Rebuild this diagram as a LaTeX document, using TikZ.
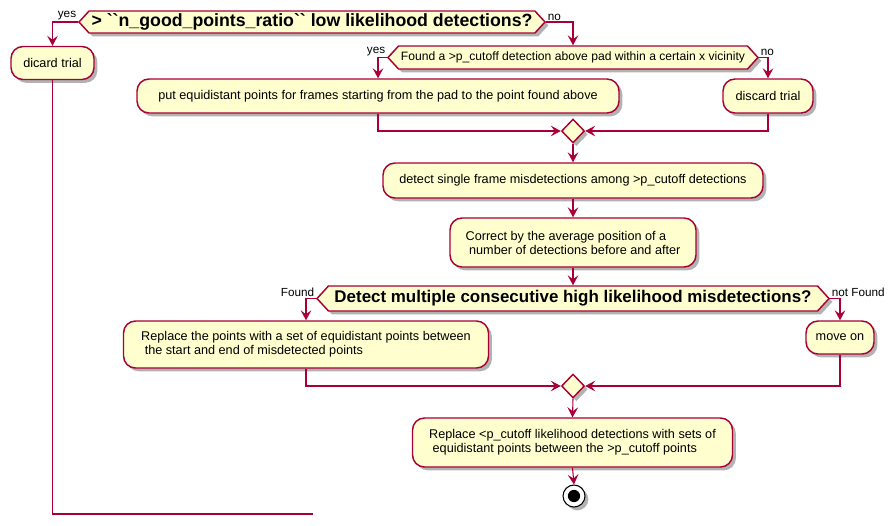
\documentclass[tikz,border=0pt]{standalone}
\usepackage{fontspec}
\setmainfont{Liberation Sans}[Ligatures=TeXOff]
\usetikzlibrary{arrows.meta,shapes.geometric,shapes.symbols,shadows}
\definecolor{umlred}{RGB}{168,0,54}
\definecolor{umlfill}{RGB}{254,254,206}

\tikzset{
  umlshadow/.style={drop shadow={shadow xshift=2.5pt,shadow yshift=-2.5pt,opacity=0.3,fill=black}},
  actbox/.style={draw=umlred,fill=umlfill,line width=1.1pt,rounded corners=9pt,
    align=left,inner sep=0pt,font=\fontsize{9.5}{10.5}\selectfont,umlshadow},
  decision/.style={signal,signal to=east and west,signal pointer angle=95,
    draw=umlred,fill=umlfill,line width=1.1pt,inner sep=0pt,umlshadow},
  merge/.style={diamond,draw=umlred,fill=umlfill,line width=1.1pt,inner sep=0pt,
    minimum width=17.25pt,minimum height=18pt,umlshadow},
  flow/.style={draw=umlred,line width=0.8pt,-{Stealth[length=7.5pt,width=8pt,inset=3pt]}},
  trail/.style={draw=umlred,line width=0.8pt},
  lbl/.style={font=\fontsize{8.8}{10}\selectfont,inner sep=1pt}
}

\begin{document}
\begin{tikzpicture}[x=0.75pt,y=-0.75pt]
    \useasboundingbox (0,0) rectangle (895,525);

    % decisions and actions
    \node[decision,minimum width=349.5pt,minimum height=16.5pt,font=\bfseries\fontsize{13.3}{15}\selectfont] (ratio) at (312,22)
        {> ``n\_good\_points\_ratio`` low likelihood detections?};
    \node[actbox,minimum width=62.25pt,minimum height=24.75pt] (dicard) at (52.5,63) {dicard trial};
    \node[decision,minimum width=277.5pt,minimum height=17.25pt,font=\fontsize{9.1}{10}\selectfont] (found) at (573,57.5)
        {Found a >p\_cutoff detection above pad within a certain x vicinity};
    \node[actbox,minimum width=361.5pt,minimum height=25.5pt] (putpts) at (378,96)
        {put equidistant points for frames starting from the pad to the point found above};
    \node[actbox,minimum width=67.5pt,minimum height=25.5pt] (discard) at (768,96) {discard trial};
    \node[merge] (merge1) at (573,131) {};
    \node[actbox,minimum width=285pt,minimum height=26.25pt] (single) at (573,180.5)
        {detect single frame misdetections among >p\_cutoff detections};
    \node[actbox,minimum width=184.5pt,minimum height=36.75pt] (correct) at (573,242.5)
        {Correct by the average position of a\\\hspace*{0.28em}number of detections before and after};
    \node[decision,minimum width=384pt,minimum height=18.75pt,font=\bfseries\fontsize{12.7}{14}\selectfont] (multi) at (573,298.5)
        {Detect multiple consecutive high likelihood misdetections?};
    \node[actbox,minimum width=273.75pt,minimum height=35.25pt] (replace) at (306,344.5)
        {Replace the points with a set of equidistant points between\\\hspace*{0.28em}the start and end of misdetected points};
    \node[actbox,minimum width=51pt,minimum height=24.75pt] (moveon) at (840,337.5) {move on};
    \node[merge] (merge2) at (573,386) {};
    \node[actbox,minimum width=240pt,minimum height=36.75pt] (fill) at (572.5,442.5)
        {Replace <p\_cutoff likelihood detections with sets of\\\hspace*{0.28em}equidistant points between the >p\_cutoff points};
    \node[circle,draw=black,fill=white,line width=0.8pt,minimum size=16.5pt,inner sep=0pt,umlshadow] (stop) at (574,496) {};
    \fill[black] (stop) circle[radius=4.6pt];
    \coordinate (trailend) at (313,514);

    % connectors
    \draw[flow] (ratio.west) node[lbl,anchor=south east] {yes} -| (dicard.north);
    \draw[flow] (ratio.east) node[lbl,anchor=south west] {no} -| (found.north);
    \draw[flow] (found.west) node[lbl,anchor=south east] {yes} -| (putpts.north);
    \draw[flow] (found.east) node[lbl,anchor=south west] {no} -| (discard.north);
    \draw[flow] (putpts.south) |- (merge1.west);
    \draw[flow] (discard.south) |- (merge1.east);
    \draw[flow] (merge1.south) -- (single.north);
    \draw[flow] (single.south) -- (correct.north);
    \draw[flow] (correct.south) -- (multi.north);
    \draw[flow] (multi.west) node[lbl,anchor=south east] {Found} -| (replace.north);
    \draw[flow] (multi.east) node[lbl,anchor=south west] {not Found} -| (moveon.north);
    \draw[flow] (replace.south) |- (merge2.west);
    \draw[flow] (moveon.south) |- (merge2.east);
    \draw[flow] (merge2.south) -- (fill.north);
    \draw[flow] (fill.south) -- (stop.north);
    \draw[trail] (dicard.south) |- (trailend);
\end{tikzpicture}
\end{document}
